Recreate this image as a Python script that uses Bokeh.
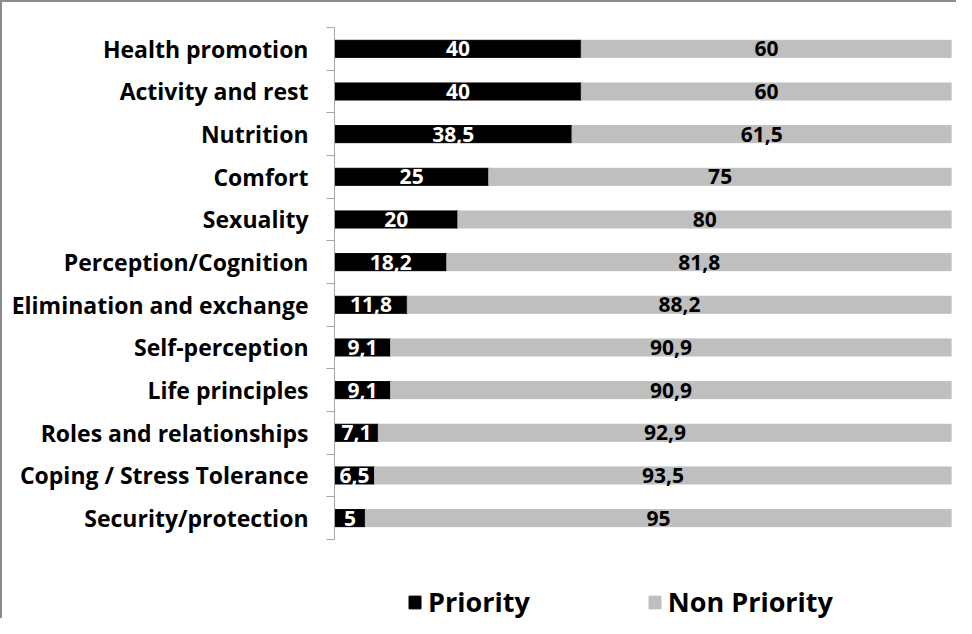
from bokeh.plotting import figure
from bokeh.models import Range1d, FixedTicker, ColumnDataSource, Legend, LegendItem
from bokeh.core.properties import value
from bokeh.embed import file_html
from bokeh.resources import INLINE

categories = ["Health promotion", "Activity and rest", "Nutrition", "Comfort", "Sexuality",
              "Perception/Cognition", "Elimination and exchange", "Self-perception",
              "Life principles", "Roles and relationships", "Coping / Stress Tolerance",
              "Security/protection"]
priority = [40, 40, 38.5, 25, 20, 18.2, 11.8, 9.1, 9.1, 7.1, 6.5, 5]
non_priority = [60, 60, 61.5, 75, 80, 81.8, 88.2, 90.9, 90.9, 92.9, 93.5, 95]
series = ["Priority", "Non Priority"]
colors = ["#000000", "#bfbfbf"]

FONT = "Open Sans"
n = len(categories)
ypos = [n - 1 - i for i in range(n)]
fmt = lambda v: f"{v:g}".replace(".", ",")

src = ColumnDataSource(dict(
    y=ypos,
    p_end=priority,
    np_end=[a + b for a, b in zip(priority, non_priority)],
    p_mid=[a / 2 for a in priority],
    np_mid=[a + b / 2 for a, b in zip(priority, non_priority)],
    p_lab=[fmt(v) for v in priority],
    np_lab=[fmt(v) for v in non_priority],
))

# extra room below the last category holds the legend inside the frame
p = figure(width=956, height=618, output_backend="svg", toolbar_location=None,
           x_range=Range1d(0, 100), y_range=Range1d(-2.4, n - 0.5),
           min_border_left=332, min_border_right=7, min_border_top=25, min_border_bottom=0)
p.styles = {"border-top": "2px solid #8c8c8c", "border-left": "2px solid #8c8c8c"}
p.outline_line_color = None
p.grid.visible = False
p.xaxis.visible = False

r1 = p.hbar(y="y", left=0, right="p_end", height=0.4, color=colors[0], source=src)
r2 = p.hbar(y="y", left="p_end", right="np_end", height=0.4, color=colors[1], source=src)

p.text(x="p_mid", y="y", text="p_lab", source=src, text_align="center", text_baseline="middle",
       text_color="white", text_font=value(FONT), text_font_style="bold", text_font_size="21px")
p.text(x="np_mid", y="y", text="np_lab", source=src, text_align="center", text_baseline="middle",
       text_color="black", text_font=value(FONT), text_font_style="bold", text_font_size="21px")

ax = p.yaxis[0]
ax.bounds = (-0.5, n - 0.5)
ax.ticker = FixedTicker(ticks=ypos, minor_ticks=[k - 0.5 for k in range(n + 1)])
ax.major_label_overrides = {y: c for y, c in zip(ypos, categories)}
ax.major_tick_out = 0
ax.major_tick_in = 0
ax.minor_tick_out = 8
ax.minor_tick_in = 0
ax.minor_tick_line_color = "#a6a6a6"
ax.axis_line_color = "#a6a6a6"
ax.major_label_text_font = FONT
ax.major_label_text_font_style = "bold"
ax.major_label_text_font_size = "23px"
ax.major_label_text_color = "black"
ax.major_label_standoff = 18

legend = Legend(items=[LegendItem(label=series[0], renderers=[r1]),
                       LegendItem(label=series[1], renderers=[r2])],
                orientation="horizontal", location=(73, 0))
legend.label_text_font = FONT
legend.label_text_font_style = "bold"
legend.label_text_font_size = "27px"
legend.label_text_color = "black"
legend.glyph_width = 15
legend.glyph_height = 16
legend.spacing = 117
legend.label_standoff = 6
legend.padding = 0
legend.margin = 0
legend.border_line_color = None
legend.background_fill_alpha = 0
p.add_layout(legend, "center")

open("out.html", "w").write(file_html(p, INLINE))
